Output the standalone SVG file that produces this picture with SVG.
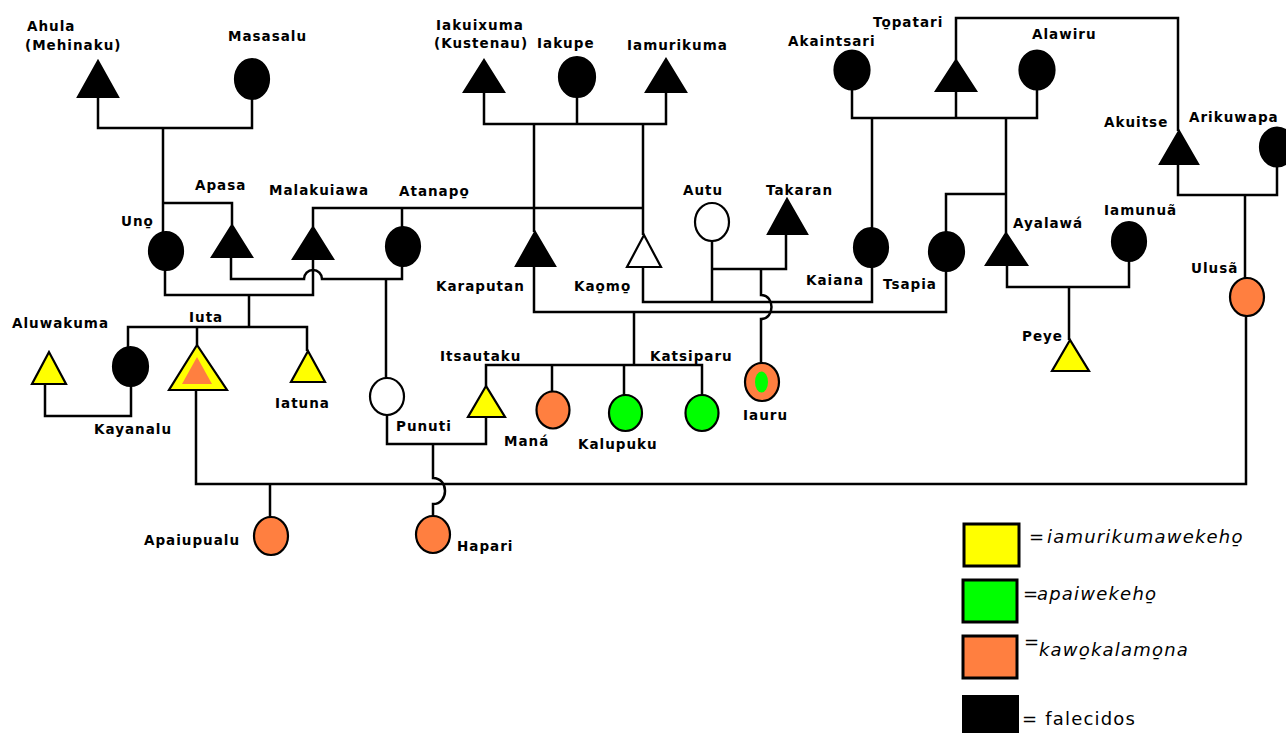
<svg xmlns="http://www.w3.org/2000/svg" width="1286" height="733" viewBox="0 0 1286 733">
<style>
.ln{fill:none;stroke:#000;stroke-width:2.5;stroke-linejoin:miter}
.sh{stroke:#000;stroke-width:2.2}
.dead{fill:#000}
.wh{fill:#fff}
.ye{fill:#ffff00}
.gr{fill:#00ff00}
.or{fill:#ff7f40}
.lb{font-family:"DejaVu Sans",Verdana,sans-serif;font-weight:bold;font-size:13.5px;letter-spacing:1px;fill:#000}
.lg{font-family:"DejaVu Sans",sans-serif;font-style:italic;font-size:18px;letter-spacing:1.2px;fill:#000}
.lgn{font-family:"DejaVu Sans",sans-serif;font-size:18px;letter-spacing:1.2px;fill:#000}
.box{stroke:#000;stroke-width:3}
</style>
<rect width="1286" height="733" fill="#fff"/>
<g id="connectors">
<polyline class="ln" points="98,97 98,128 252,128 252,99"/>
<polyline class="ln" points="163,128 163,233"/>
<polyline class="ln" points="163,203 232,203 232,225"/>
<polyline class="ln" points="484,92 484,124 666,124 666,92"/>
<polyline class="ln" points="577,97 577,124"/>
<polyline class="ln" points="534,124 534,232"/>
<polyline class="ln" points="643,124 643,235"/>
<polyline class="ln" points="313,227 313,208 643,208"/>
<polyline class="ln" points="402,208 402,227"/>
<polyline class="ln" points="165,270 165,295 313,295 313,259"/>
<polyline class="ln" points="249,295 249,327"/>
<path class="ln" d="M231,257 V279 H304 A9,9 0 0 1 322,279 H402 V266"/>
<polyline class="ln" points="386,279 386,378"/>
<polyline class="ln" points="128,347 128,327 307,327 307,351"/>
<polyline class="ln" points="197,327 197,345"/>
<polyline class="ln" points="45,384 45,416 131,416 131,386"/>
<polyline class="ln" points="534,266 534,312 946,312 946,271"/>
<polyline class="ln" points="634,312 634,365"/>
<polyline class="ln" points="486,386 486,365 702,365 702,395"/>
<polyline class="ln" points="552,365 552,391"/>
<polyline class="ln" points="624,365 624,395"/>
<polyline class="ln" points="643,267 643,302 872,302 872,267"/>
<polyline class="ln" points="712,241 712,302"/>
<polyline class="ln" points="712,269 786,269 786,234"/>
<path class="ln" d="M761,269 V295 C775,295 775,319 761,319 V363"/>
<polyline class="ln" points="872,118 872,228"/>
<polyline class="ln" points="852,89 852,118 1037,118 1037,89"/>
<polyline class="ln" points="956,91 956,118"/>
<polyline class="ln" points="1006,118 1006,233"/>
<polyline class="ln" points="1006,194 946,194 946,232"/>
<polyline class="ln" points="956,60 956,18 1178,18 1178,131"/>
<polyline class="ln" points="1178,164 1178,195 1277,195 1277,166"/>
<polyline class="ln" points="1245,195 1245,278"/>
<polyline class="ln" points="1246,316 1246,484 196,484 196,390"/>
<polyline class="ln" points="270,484 270,517"/>
<polyline class="ln" points="1007,265 1007,287 1129,287 1129,261"/>
<polyline class="ln" points="1069,287 1069,340"/>
<polyline class="ln" points="387,415 387,444 486,444 486,417"/>
<path class="ln" d="M433,444 V478 C449,478 449,504 433,504 V516"/>
</g>
<g id="ahula"><polygon class="sh dead" points="98,61 78,97 118,97"/><text class="lb" x="27" y="31">Ahula</text><text class="lb" x="25" y="50">(Mehinaku)</text></g>
<g id="masasalu"><ellipse class="sh dead" cx="252" cy="79" rx="17" ry="20"/><text class="lb" x="228" y="41">Masasalu</text></g>
<g id="iakuixuma"><polygon class="sh dead" points="484,60 464,92 504,92"/><text class="lb" x="436" y="30">Iakuixuma</text><text class="lb" x="434" y="48">(Kustenau)</text></g>
<g id="iakupe"><ellipse class="sh dead" cx="577" cy="77" rx="18" ry="20"/><text class="lb" x="537" y="48">Iakupe</text></g>
<g id="iamurikuma"><polygon class="sh dead" points="666,59 646,92 686,92"/><text class="lb" x="627" y="50">Iamurikuma</text></g>
<g id="akaintsari"><ellipse class="sh dead" cx="852" cy="70" rx="17.5" ry="19.5"/><text class="lb" x="788" y="46">Akaintsari</text></g>
<g id="topatari"><polygon class="sh dead" points="956,60 936,91 976,91"/><text class="lb" x="873" y="27">To̱patari</text></g>
<g id="alawiru"><ellipse class="sh dead" cx="1037" cy="70" rx="17.5" ry="19.5"/><text class="lb" x="1032" y="39">Alawiru</text></g>
<g id="akuitse"><polygon class="sh dead" points="1179,131 1160,164 1198,164"/><text class="lb" x="1104" y="127">Akuitse</text></g>
<g id="arikuwapa"><ellipse class="sh dead" cx="1277" cy="147" rx="17" ry="19.5"/><text class="lb" x="1189" y="122">Arikuwapa</text></g>
<g id="uno"><ellipse class="sh dead" cx="166" cy="251" rx="17" ry="19"/><text class="lb" x="121" y="226">Uno̱</text></g>
<g id="apasa"><polygon class="sh dead" points="232,225 212,257 252,257"/><text class="lb" x="195" y="190">Apasa</text></g>
<g id="malakuiawa"><polygon class="sh dead" points="313,227 293,259 333,259"/><text class="lb" x="269" y="195">Malakuiawa</text></g>
<g id="atanapo"><ellipse class="sh dead" cx="403" cy="246.5" rx="17" ry="19.5"/><text class="lb" x="399" y="196">Atanapo̱</text></g>
<g id="karaputan"><polygon class="sh dead" points="535,232 516,266 555,266"/><text class="lb" x="436" y="291">Karaputan</text></g>
<g id="kaomo"><polygon class="sh wh" points="644,235 627,267 661,267"/><text class="lb" x="574" y="291">Kao̱mo̱</text></g>
<g id="autu"><ellipse class="sh wh" cx="712" cy="222" rx="17" ry="19"/><text class="lb" x="683" y="195">Autu</text></g>
<g id="takaran"><polygon class="sh dead" points="787,199 768,234 807,234"/><text class="lb" x="766" y="195">Takaran</text></g>
<g id="kaiana"><ellipse class="sh dead" cx="871" cy="247.5" rx="17" ry="19.5"/><text class="lb" x="806" y="285">Kaiana</text></g>
<g id="tsapia"><ellipse class="sh dead" cx="946.5" cy="251.5" rx="17.5" ry="19.5"/><text class="lb" x="883" y="289">Tsapia</text></g>
<g id="ayalawa"><polygon class="sh dead" points="1006,233 986,265 1027,265"/><text class="lb" x="1013" y="228">Ayalawá</text></g>
<g id="iamunua"><ellipse class="sh dead" cx="1129" cy="241.5" rx="17" ry="19.5"/><text class="lb" x="1104" y="215">Iamunuã</text></g>
<g id="ulusa"><ellipse class="sh or" cx="1247" cy="297" rx="17" ry="19"/><text class="lb" x="1191" y="273">Ulusã</text></g>
<g id="peye"><polygon class="sh ye" points="1070,340 1052,371 1089,371"/><text class="lb" x="1022" y="341">Peye</text></g>
<g id="aluwakuma"><polygon class="sh ye" points="49,352 32,384 66,384"/><text class="lb" x="12" y="328">Aluwakuma</text></g>
<g id="kayanalu"><ellipse class="sh dead" cx="130.5" cy="366.5" rx="17.5" ry="19.5"/><text class="lb" x="94" y="434">Kayanalu</text></g>
<g id="iuta"><polygon class="sh ye" points="197,345 169,390 227,390"/><polygon class="or" points="197,357 182,384 212,384"/><text class="lb" x="189" y="322">Iuta</text></g>
<g id="iatuna"><polygon class="sh ye" points="308,351 291,382 325,382"/><text class="lb" x="275" y="408">Iatuna</text></g>
<g id="punuti"><ellipse class="sh wh" cx="387" cy="396.5" rx="17" ry="18.5"/><text class="lb" x="396" y="431">Punuti</text></g>
<g id="itsautaku"><polygon class="sh ye" points="486,386 468,417 505,417"/><text class="lb" x="440" y="361">Itsautaku</text></g>
<g id="mana"><ellipse class="sh or" cx="553" cy="410" rx="16.5" ry="18.5"/><text class="lb" x="504" y="446">Maná</text></g>
<g id="kalupuku"><ellipse class="sh gr" cx="625.5" cy="413" rx="16.5" ry="18"/><text class="lb" x="578" y="449">Kalupuku</text></g>
<g id="katsiparu"><ellipse class="sh gr" cx="702" cy="413" rx="16.5" ry="18"/><text class="lb" x="650" y="361">Katsiparu</text></g>
<g id="iauru"><ellipse class="sh or" cx="762" cy="382" rx="17" ry="19"/><ellipse class="gr" cx="761.5" cy="382" rx="6.5" ry="10.5"/><text class="lb" x="743" y="420">Iauru</text></g>
<g id="apaiupualu"><ellipse class="sh or" cx="271" cy="536" rx="17" ry="19"/><text class="lb" x="144" y="545">Apaiupualu</text></g>
<g id="hapari"><ellipse class="sh or" cx="433" cy="534.5" rx="17" ry="18.5"/><text class="lb" x="457" y="551">Hapari</text></g>
<g id="legend">
<rect class="box ye" x="964" y="524" width="55" height="42"/>
<text class="lgn" x="1029" y="543">=</text><text class="lg" x="1047" y="543">iamurikumawekeho̱</text>
<rect class="box gr" x="963" y="580" width="54" height="42"/>
<text class="lgn" x="1023" y="600">=</text><text class="lg" x="1037" y="600">apaiwekeho̱</text>
<rect class="box or" x="963" y="636" width="54" height="42"/>
<text class="lgn" x="1024" y="648">=</text><text class="lg" x="1039" y="656">kawo̱kalamo̱na</text>
<rect x="962" y="695" width="57" height="40" fill="#000"/>
<text class="lgn" x="1022" y="725">= falecidos</text>
</g>
</svg>
